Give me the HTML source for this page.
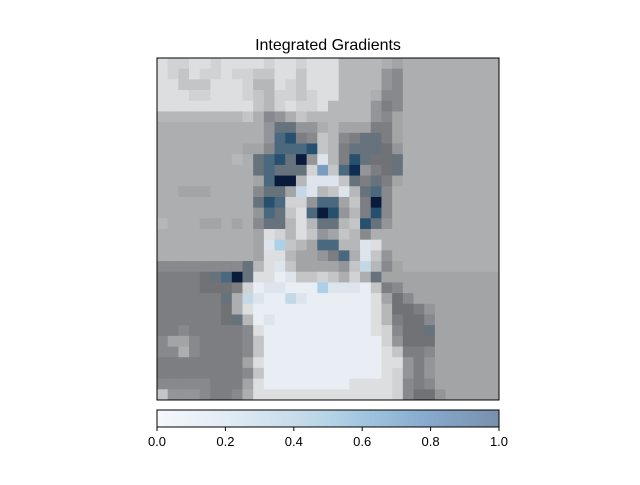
<!DOCTYPE html>
<html><head><meta charset="utf-8"><style>
body{margin:0;background:#fff;width:640px;height:480px;overflow:hidden;font-family:"Liberation Sans",sans-serif;}
</style></head><body>
<svg id="chart" width="640" height="480" xmlns="http://www.w3.org/2000/svg">
<defs><linearGradient id="cb" x1="0" x2="1" y1="0" y2="0">
<stop offset="0" stop-color="#f5f8fc"/><stop offset="0.2" stop-color="#e2ecf5"/><stop offset="0.4" stop-color="#c8dcea"/><stop offset="0.5" stop-color="#b6d4e6"/><stop offset="0.6" stop-color="#a2c6e0"/><stop offset="0.8" stop-color="#86a8cc"/><stop offset="1" stop-color="#7890ac"/></linearGradient></defs>
<text x="328" y="50" font-size="16" text-anchor="middle" fill="#000">Integrated Gradients</text>
<g id="cells"></g>
<rect x="157" y="58" width="342" height="342" fill="none" stroke="#000" stroke-width="1"/>
<rect x="157" y="410" width="342" height="17" fill="url(#cb)" stroke="#000" stroke-width="1"/>
<g id="cbticks"></g>
</svg>
<script>
const rows = [
"98899899998998999666654555555555",
"98798898877997999666632555555555",
"99777999866987999666632555555555",
"99988999876887899666522555555555",
"99999999976898896666312555555555",
"66666666752357666666324555555555",
"55555555553qq3356444114555555555",
"55555555553sB127621qq14555555555",
"55555555442sssB761qqq03555555555",
"555555565qsBqN3x61Bq00q555555555",
"555555555qsqqq8p7sn310q555555555",
"5555555554sNN6xxx7q1q14555555555",
"5544455552qq4cx67x6qs25555555555",
"555555555qBs883ss471N25555555555",
"5555555553sq79sNB361B25555555555",
"6555445452qq696qq67Bq35555555555",
"55555555549869734762555555555555",
"5555555554xa764ss66x955555555555",
"55555555549964431s5x735555555555",
"22222222q69x7444437c624555555555",
"11110qsNq99wx7787585q44444444444",
"111100018wxxwwwaxxxw712444444444",
"111111q5cxwwcxwwwwww940244444444",
"111111059wwwwwwwwwww960013444444",
"1111110q6wxwwwwwwwww961002444444",
"1121111129wwwwwwwwww98200q444444",
"2442111127wwwwwwwwwww83000444444",
"2252111127wwwwwwwwwww97112444444",
"1111111149wwwwwwwwwww99313444444",
"1111111127wwwwwwwwwww98313444444",
"2222211149wwwwwwww99998212444444",
"73332112599999999999998200344444"
];
const palette = {"0":"#707276","1":"#7c7e81","2":"#87898c","3":"#939598","4":"#a2a4a6","5":"#acaeb0","6":"#b5b7b9","7":"#c4c5c7","8":"#d1d2d4","9":"#dcdee0",
"q":"#66727c","s":"#4a687e","B":"#26506e","N":"#0a1a3a","n":"#0f2c52","a":"#acd0e8","c":"#c4d8e6","w":"#e8eef4","x":"#dde4ec","p":"#7a9cc0"};
const cbTicks = [0.0, 0.2, 0.4, 0.6, 0.8, 1.0];
const X0=157, Y0=58, W=342, H=342, N=32;
const sx = c => X0 + c*W/N, sy = r => Y0 + r*H/N;
const g = document.getElementById('cells');
const NS = "http://www.w3.org/2000/svg";
rows.forEach((row, r) => {
  for (let c = 0; c < N; c++) {
    const ch = row[c] || '5';
    const el = document.createElementNS(NS, 'rect');
    
    
    el.setAttribute('x', sx(c)); el.setAttribute('y', sy(r));
    el.setAttribute('width', W/N + 0.4); el.setAttribute('height', H/N + 0.4);
    el.setAttribute('fill', palette[ch] || '#acaeb0');
    g.appendChild(el);
  }
});
const tg = document.getElementById('cbticks');
const cx = v => 157 + v*342;
cbTicks.forEach(v => {
  const l = document.createElementNS(NS, 'line');
  
  
  l.setAttribute('x1', cx(v)); l.setAttribute('x2', cx(v));
  l.setAttribute('y1', 427); l.setAttribute('y2', 431);
  l.setAttribute('stroke', '#000');
  tg.appendChild(l);
  const t = document.createElementNS(NS, 'text');
  
  
  t.setAttribute('x', cx(v)); t.setAttribute('y', 446);
  t.setAttribute('font-size', '13'); t.setAttribute('text-anchor', 'middle');
  t.textContent = v.toFixed(1);
  tg.appendChild(t);
});
</script>
</body></html>
